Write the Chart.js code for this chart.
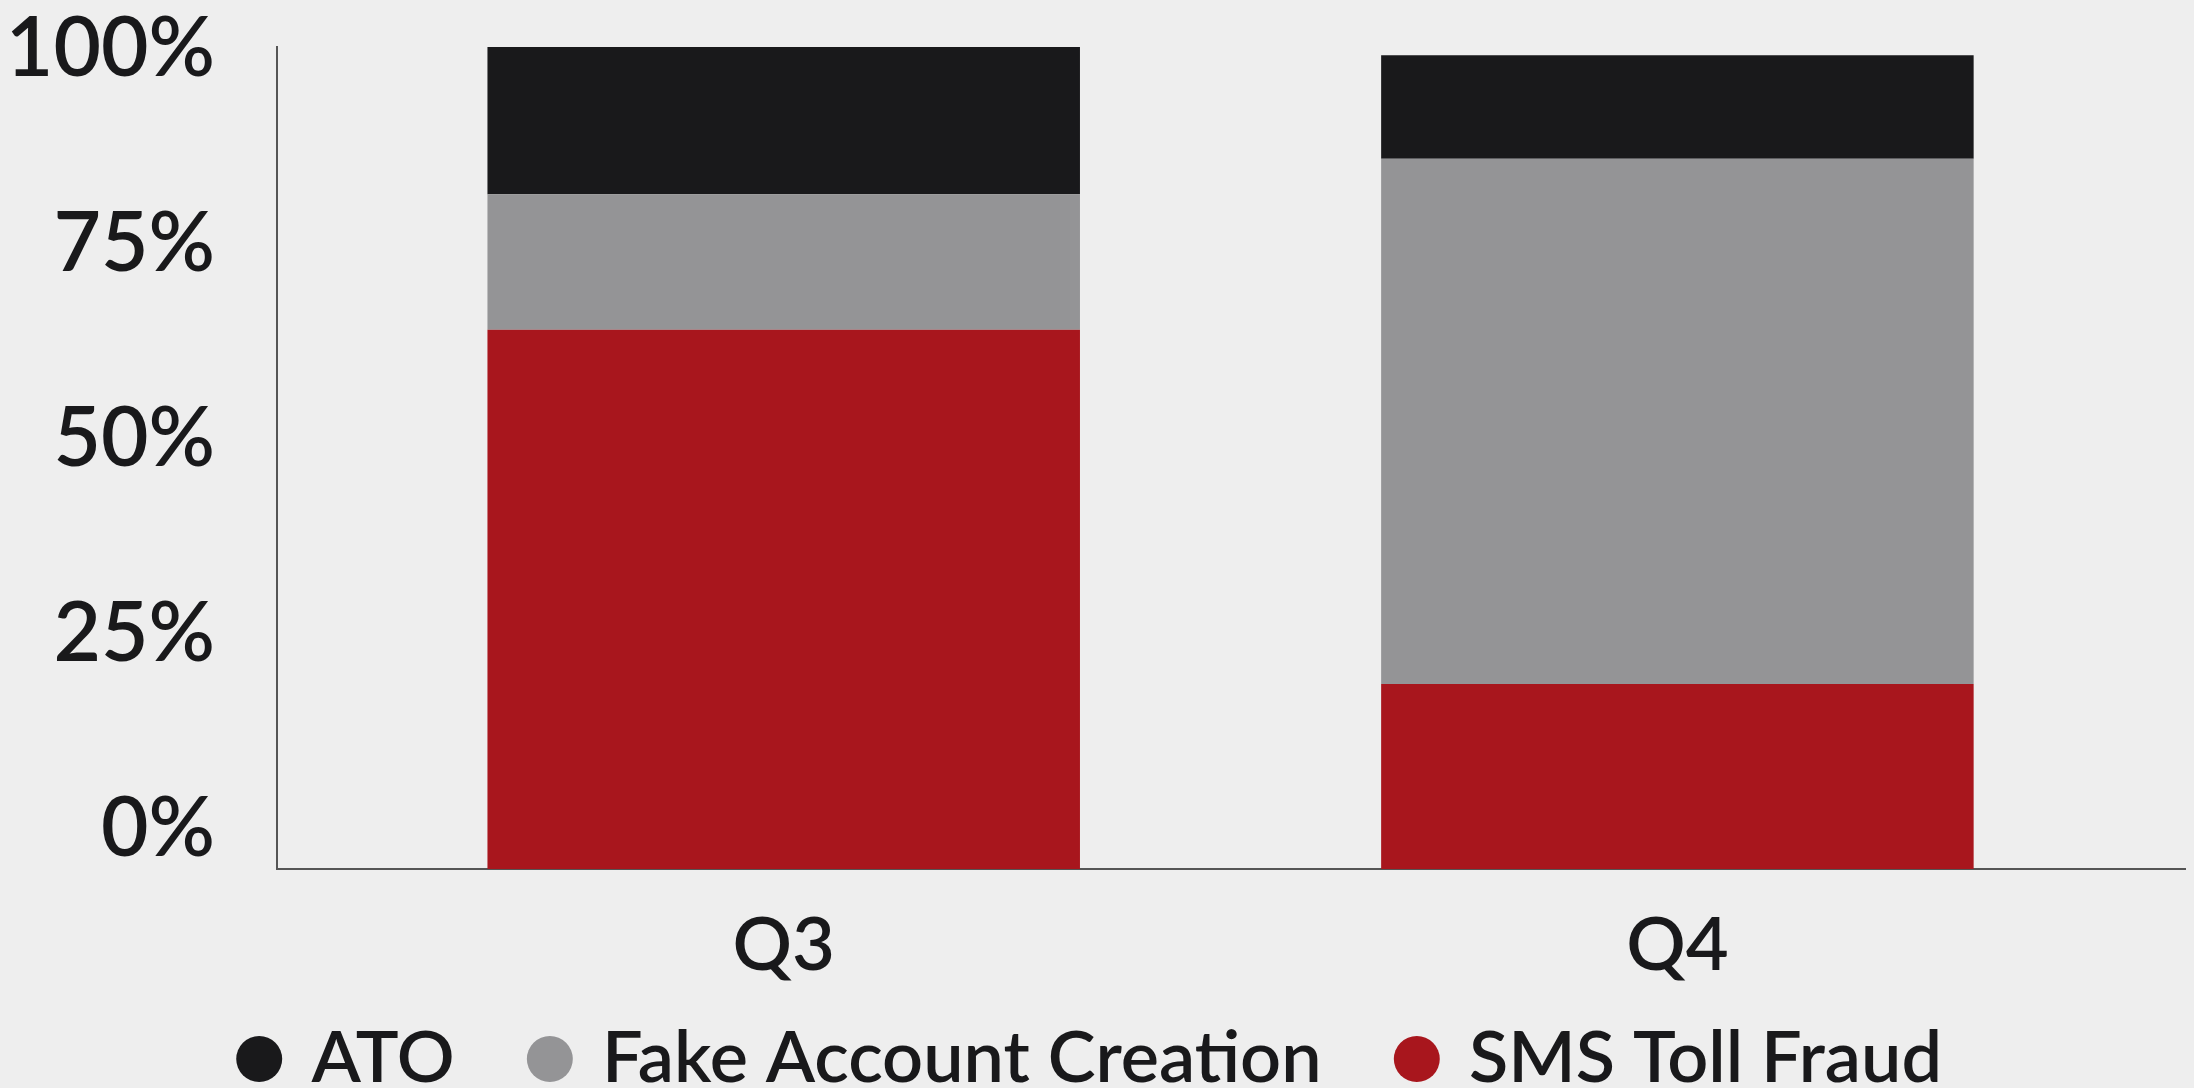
<!DOCTYPE html>
<html>
<head>
<meta charset="utf-8">
<script src="https://cdn.jsdelivr.net/npm/chart.js@4.4.1/dist/chart.umd.min.js"></script>
<style>
  html, body { margin: 0; padding: 0; background: #eeeeee; overflow: hidden; }
  #wrap { width: 2194px; height: 1105px; }
</style>
</head>
<body>
<div id="wrap"><canvas id="chart"></canvas></div>
<script>
// categories and values (percent of total)
const quarters = ['Q3', 'Q4'];
const smsTollFraud = [65.6, 22.5];
const fakeAccountCreation = [16.5, 63.9];
const ato = [17.9, 12.6];
const yTickValues = [0, 25, 50, 75, 100];

const textColor = '#19191b';
const axisColor = '#555555';
const fontFamily = 'Lato, "Noto Sans", sans-serif';

function toPoints(values) {
    return values.map((v, i) => ({ x: i, y: v }));
}

new Chart(document.getElementById('chart').getContext('2d'), {
    type: 'bar',
    data: {
        datasets: [
            { label: 'SMS Toll Fraud', data: toPoints(smsTollFraud), backgroundColor: '#a8161d' },
            { label: 'Fake Account Creation', data: toPoints(fakeAccountCreation), backgroundColor: '#949496' },
            { label: 'ATO', data: toPoints(ato), backgroundColor: '#19191b' }
        ]
    },
    options: {
        responsive: true,
        maintainAspectRatio: false,
        animation: false,
        categoryPercentage: 1,
        barPercentage: 0.663,
        layout: { padding: { top: 47, right: 9, left: 0, bottom: 0 } },
        plugins: {
            tooltip: { enabled: false },
            legend: {
                position: 'bottom',
                reverse: true,
                labels: {
                    usePointStyle: true,
                    pointStyle: 'circle',
                    boxWidth: 32.5,
                    boxHeight: 32.5,
                    padding: 79,
                    color: textColor,
                    font: { family: fontFamily, size: 72, weight: 600 }
                }
            }
        },
        scales: {
            x: {
                type: 'linear',
                stacked: true,
                offset: false,
                min: -0.567,
                max: 1.568,
                afterBuildTicks: scale => { scale.ticks = quarters.map((q, i) => ({ value: i })); },
                afterFit: scale => {
                    scale.height = 75;
                    scale.paddingLeft = 0;
                    scale.paddingRight = 0;
                },
                grid: { display: false, drawTicks: false, offset: false },
                border: { display: true, color: axisColor, width: 2 },
                ticks: {
                    // mirrored with negative padding so the labels hang below the axis unclipped
                    mirror: true,
                    padding: -121.4,
                    color: textColor,
                    font: { family: fontFamily, size: 74, weight: 600 },
                    callback: v => quarters[v]
                }
            },
            y: {
                display: false,
                stacked: true,
                min: 0,
                max: 100
            },
            // label axis: the printed percent labels sit a little off the bar scale
            yl: {
                type: 'linear',
                position: 'left',
                min: -5.0,
                max: 100.385,
                afterBuildTicks: scale => { scale.ticks = yTickValues.map(v => ({ value: v })); },
                afterFit: scale => {
                    scale.width = 277;
                    scale.paddingTop = 0;
                    scale.paddingBottom = 0;
                },
                grid: { display: false, drawTicks: false },
                border: { display: true, color: axisColor, width: 2 },
                ticks: {
                    padding: 62,
                    color: textColor,
                    font: { family: fontFamily, size: 82, weight: 600 },
                    callback: v => v + '%'
                }
            }
        }
    }
});
</script>
</body>
</html>
